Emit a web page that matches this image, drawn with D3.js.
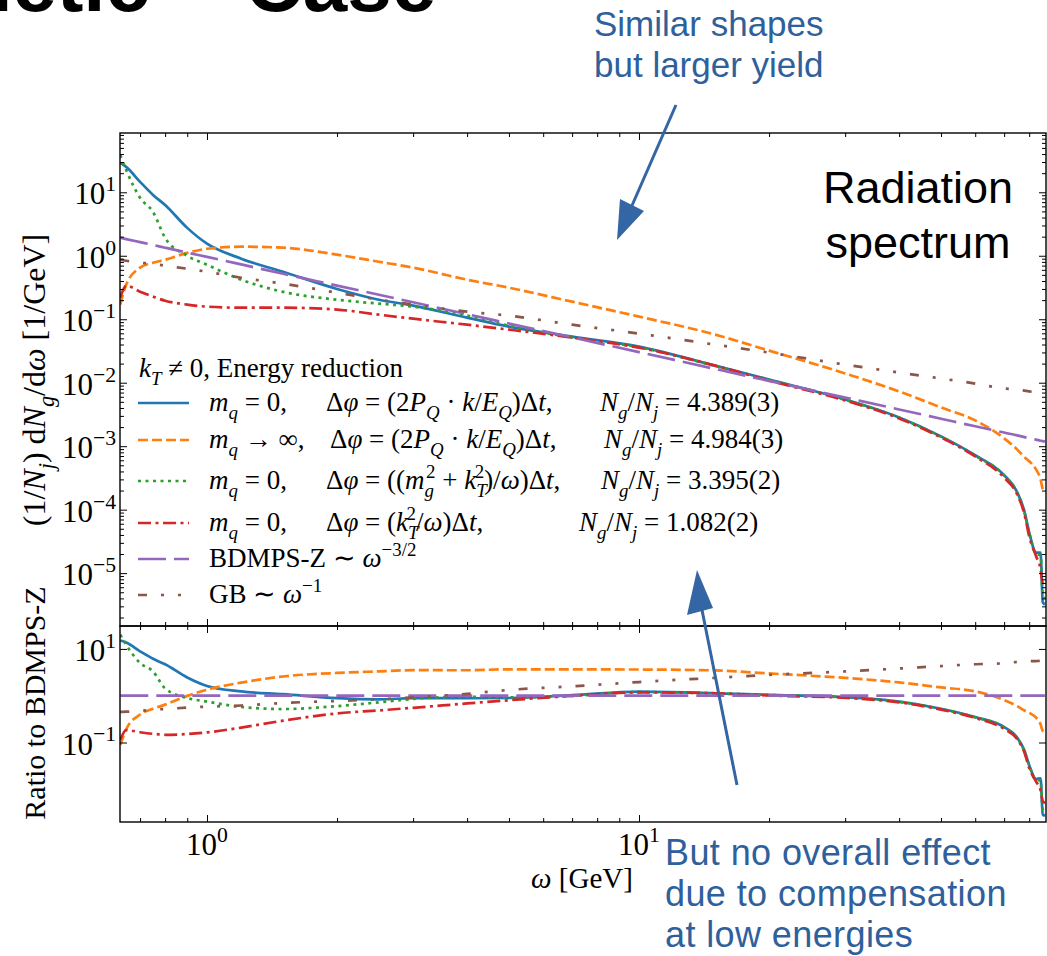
<!DOCTYPE html>
<html>
<head>
<meta charset="utf-8">
<script src="https://cdn.jsdelivr.net/npm/d3@7"></script>
<style>
  body { margin: 0; background: #fff; }
  svg { display: block; }
  text { font-family: "Liberation Serif", serif; white-space: pre; }
  .sans { font-family: "Liberation Sans", Arial, sans-serif; }
</style>
</head>
<body>
<svg id="chart" width="1047" height="956"></svg>
<script>
  // gluon energy omega [GeV] where the curves were read
  var omega = [0.63, 0.65, 0.7, 0.75, 0.8, 0.9, 1, 1.2, 1.5, 2, 2.5, 3, 4, 5, 7, 10, 15, 20, 30, 40, 50, 60, 70, 75, 78, 80, 83, 85, 86, 87];

  // (1/Nj) dNg/domega [1/GeV]
  var masslessPk = [29.0, 25.1, 14.6, 9.1, 6.3, 2.75, 1.55, 0.90, 0.56, 0.30, 0.203, 0.164, 0.106, 0.0765, 0.0532, 0.0371, 0.0186, 0.0112, 0.00544, 0.00284, 0.00143, 7.2e-4, 3.5e-4, 1.9e-4, 9.4e-5, 4.4e-5, 2.1e-5, 2.1e-5, 3.5e-6, 3.2e-6];
  var heavyPk = [0.170, 0.35, 0.65, 0.776, 0.865, 1.11, 1.29, 1.39, 1.34, 1.04, 0.805, 0.65, 0.42, 0.314, 0.189, 0.11, 0.0573, 0.032, 0.014, 0.00728, 0.00408, 0.00255, 0.00133, 8.9e-4, 6.7e-4, 5.8e-4, 4.3e-4, 3.0e-4, 2.1e-4, 1.9e-4];
  var masslessMg = [38.7, 22.5, 8.2, 4.9, 1.92, 1.0, 0.72, 0.42, 0.27, 0.203, 0.176, 0.158, 0.114, 0.079, 0.0514, 0.0362, 0.0184, 0.0111, 0.00538, 0.00281, 0.00141, 7.1e-4, 3.45e-4, 1.85e-4, 9.0e-5, 4.3e-5, 2.0e-5, 1.9e-5, 4.5e-6, 4.0e-6];
  var masslessKt = [0.219, 0.337, 0.272, 0.227, 0.196, 0.170, 0.158, 0.152, 0.152, 0.142, 0.118, 0.102, 0.082, 0.0686, 0.0514, 0.0357, 0.0186, 0.0108, 0.00525, 0.00274, 0.00137, 6.9e-4, 3.2e-4, 1.75e-4, 8.5e-5, 3.8e-5, 1.85e-5, 1.16e-5, 6.7e-6, 6.0e-6];
  var bdmpsz = [1.92, 1.83, 1.64, 1.48, 1.34, 1.12, 0.96, 0.73, 0.52, 0.339, 0.243, 0.185, 0.120, 0.0857, 0.0518, 0.0303, 0.0165, 0.0107, 0.00583, 0.00379, 0.00271, 0.00206, 0.00164, 0.00148, 0.00139, 0.00134, 0.00127, 0.00122, 0.00120, 0.00118];
  var gb = [0.865, 0.834, 0.776, 0.748, 0.696, 0.625, 0.56, 0.451, 0.363, 0.262, 0.203, 0.170, 0.1316, 0.114, 0.082, 0.0594, 0.0398, 0.0298, 0.0193, 0.01446, 0.01164, 0.0097, 0.0081, 0.0078, 0.0075, 0.0073, 0.0070, 0.0068, 0.0068, 0.0065];

  var xMajor = [1, 10];
  var yTopMajor = [1e1, 1e0, 1e-1, 1e-2, 1e-3, 1e-4, 1e-5];
  var yRatioMajor = [1e1, 1e-1];
  var multiplicities = ['4.389(3)', '4.984(3)', '3.395(2)', '1.082(2)'];

  var svg = d3.select('#chart');
  var plotLeft = 120, plotRight = 1046, plotTop = 133, plotMid = 626, plotBottom = 822;

  var x = d3.scaleLog().domain([0.629, 87.5]).range([plotLeft, plotRight]);
  var yTop = d3.scaleLog().domain([1.47e-6, 85.9]).range([plotMid, plotTop]);
  var yRatio = d3.scaleLog().domain([0.002, 30.9]).range([plotBottom, plotMid]);

  var series = [
    { values: masslessPk, color: '#1f77b4', dash: null },
    { values: heavyPk, color: '#ff7f0e', dash: '10,4' },
    { values: masslessMg, color: '#2ca02c', dash: '3,4.5' },
    { values: masslessKt, color: '#d62728', dash: '13,4.5,3,4.5' },
    { values: bdmpsz, color: '#9467bd', dash: '28,8' },
    { values: gb, color: '#8c564b', dash: '9,14,3,14,3,14' }
  ];

  // small helper for math-ish labels: [text, flags, dx]; flags: i italic, _ sub, ^ sup
  function rich(sel, parts, size) {
    var cur = 0;
    parts.forEach(function(p) {
      var f = p[1] || '';
      var off = f.indexOf('_') >= 0 ? size * 0.28 : f.indexOf('^') >= 0 ? -size * 0.42 : 0;
      var ts = sel.append('tspan').text(p[0]).attr('dy', off - cur);
      if (f.indexOf('i') >= 0) ts.style('font-style', 'italic');
      if (off !== 0) ts.style('font-size', (size * 0.7) + 'px');
      if (p[2]) ts.attr('dx', p[2]);
      cur = off;
    });
    return sel;
  }

  function minorsFor(domain) {
    var out = [];
    for (var e = -7; e <= 2; e++) {
      for (var m = 2; m <= 9; m++) {
        var v = m * Math.pow(10, e);
        if (v > domain[0] && v < domain[1]) out.push(v);
      }
    }
    return out;
  }

  function expText(v) {
    var e = Math.round(Math.log10(v));
    return e < 0 ? '\u2212' + (-e) : '' + e;
  }

  function ticks(g, axisFn, scale, values, size, transform) {
    g.append('g')
      .attr('transform', transform)
      .call(axisFn(scale).tickValues(values).tickSize(-size).tickFormat(''))
      .call(function(s) { s.select('.domain').remove(); })
      .selectAll('line').attr('stroke-width', 1);
  }

  function panel(yScale, yMajors, yMinors, y0, y1, ratio, id) {
    var g = svg.append('g');

    svg.append('clipPath').attr('id', id)
      .append('rect').attr('x', plotLeft).attr('y', y0).attr('width', plotRight - plotLeft).attr('height', y1 - y0);

    var line = d3.line()
      .x(function(d) { return x(d[0]); })
      .y(function(d) { return yScale(d[1]); })
      .curve(d3.curveMonotoneX);

    var lines = g.append('g').attr('clip-path', 'url(#' + id + ')');
    series.forEach(function(s) {
      var pts = omega.map(function(w, i) {
        return [w, ratio ? s.values[i] / bdmpsz[i] : s.values[i]];
      });
      lines.append('path')
        .attr('d', line(pts))
        .attr('fill', 'none')
        .attr('stroke', s.color)
        .attr('stroke-width', 2.7)
        .attr('stroke-dasharray', s.dash);
    });

    var xMinors = minorsFor(x.domain());
    ticks(g, d3.axisBottom, x, xMajor, 7, 'translate(0,' + y1 + ')');
    ticks(g, d3.axisBottom, x, xMinors, 4, 'translate(0,' + y1 + ')');
    ticks(g, d3.axisTop, x, xMajor, 7, 'translate(0,' + y0 + ')');
    ticks(g, d3.axisTop, x, xMinors, 4, 'translate(0,' + y0 + ')');
    ticks(g, d3.axisLeft, yScale, yMajors, 7, 'translate(' + plotLeft + ',0)');
    ticks(g, d3.axisRight, yScale, yMajors, 7, 'translate(' + plotRight + ',0)');
    if (yMinors.length) {
      ticks(g, d3.axisLeft, yScale, yMinors, 4, 'translate(' + plotLeft + ',0)');
      ticks(g, d3.axisRight, yScale, yMinors, 4, 'translate(' + plotRight + ',0)');
    }

    g.append('rect')
      .attr('x', plotLeft).attr('y', y0).attr('width', plotRight - plotLeft).attr('height', y1 - y0)
      .attr('fill', 'none').attr('stroke', '#000').attr('stroke-width', 1.4);

    yMajors.forEach(function(v) {
      var t = g.append('text')
        .attr('x', plotLeft - 4).attr('y', yScale(v) + 12)
        .attr('text-anchor', 'end')
        .style('font-size', '31px');
      rich(t, [['10'], [expText(v), '^']], 31);
    });
    return g;
  }

  panel(yTop, yTopMajor, minorsFor(yTop.domain()), plotTop, plotMid, false, 'clipTop');
  panel(yRatio, yRatioMajor, [], plotMid, plotBottom, true, 'clipRatio');

  // x tick labels under the ratio panel
  xMajor.forEach(function(v) {
    var t = svg.append('text')
      .attr('x', x(v)).attr('y', 855)
      .attr('text-anchor', 'middle')
      .style('font-size', '31px');
    rich(t, [['10'], [expText(v), '^']], 31);
  });

  rich(svg.append('text').attr('x', 582).attr('y', 888).attr('text-anchor', 'middle').style('font-size', '29px'),
    [['\u03c9', 'i'], [' [GeV]']], 29);

  rich(svg.append('text').attr('transform', 'translate(45,380) rotate(-90)').attr('text-anchor', 'middle').style('font-size', '32px'),
    [['(1/'], ['N', 'i'], ['j', 'i_'], [') d'], ['N', 'i'], ['g', 'i_'], ['/d'], ['\u03c9', 'i'], [' [1/GeV]']], 32);

  svg.append('text').attr('transform', 'translate(45,703) rotate(-90)').attr('text-anchor', 'middle')
    .style('font-size', '30px').text('Ratio to BDMPS-Z');

  // legend
  var fs = 27;
  var legend = svg.append('g').style('font-size', fs + 'px');
  rich(legend.append('text').attr('x', 139).attr('y', 377),
    [['k', 'i'], ['T', 'i_'], [' \u2260 0, Energy reduction']], fs);

  var rowY = [403, 440, 481, 523, 559, 595];
  var col1 = [
    [['m', 'i'], ['q', 'i_'], [' = 0,']],
    [['m', 'i'], ['q', 'i_'], [' \u2192 \u221e,']],
    [['m', 'i'], ['q', 'i_'], [' = 0,']],
    [['m', 'i'], ['q', 'i_'], [' = 0,']],
    [['BDMPS-Z \u223c '], ['\u03c9', 'i'], ['\u22123/2', '^']],
    [['GB \u223c '], ['\u03c9', 'i'], ['\u22121', '^']]
  ];
  var col2 = [
    [['\u0394'], ['\u03c6', 'i'], [' = (2'], ['P', 'i'], ['Q', 'i_'], [' \u00b7 '], ['k', 'i'], ['/'], ['E', 'i'], ['Q', 'i_'], [')\u0394'], ['t', 'i'], [',']],
    [['\u0394'], ['\u03c6', 'i'], [' = (2'], ['P', 'i'], ['Q', 'i_'], [' \u00b7 '], ['k', 'i'], ['/'], ['E', 'i'], ['Q', 'i_'], [')\u0394'], ['t', 'i'], [',']],
    [['\u0394'], ['\u03c6', 'i'], [' = (('], ['m', 'i'], ['g', 'i_'], ['2', '^', -8], [' + '], ['k', 'i'], ['T', 'i_'], ['2', '^', -12], [')/'], ['\u03c9', 'i'], [')\u0394'], ['t', 'i'], [',']],
    [['\u0394'], ['\u03c6', 'i'], [' = ('], ['k', 'i'], ['T', 'i_'], ['2', '^', -12], ['/'], ['\u03c9', 'i'], [')\u0394'], ['t', 'i'], [',']]
  ];
  var col2X = [326, 330, 326, 326];
  var col3X = [600, 604, 601, 579];

  series.forEach(function(s, i) {
    legend.append('line')
      .attr('x1', 138).attr('x2', 189).attr('y1', rowY[i]).attr('y2', rowY[i])
      .attr('stroke', s.color).attr('stroke-width', 2.7)
      .attr('stroke-dasharray', s.dash);
    rich(legend.append('text').attr('x', 209).attr('y', rowY[i] + 8), col1[i], fs);
    if (i < 4) {
      rich(legend.append('text').attr('x', col2X[i]).attr('y', rowY[i] + 8), col2[i], fs);
      rich(legend.append('text').attr('x', col3X[i]).attr('y', rowY[i] + 8),
        [['N', 'i'], ['g', 'i_'], ['/'], ['N', 'i'], ['j', 'i_'], [' = ' + multiplicities[i]]], fs);
    }
  });

  // slide annotations
  var noteBlue = '#2e609c', arrowBlue = '#3465a4';
  svg.append('text').attr('class', 'sans').attr('x', 150).attr('y', 11).attr('text-anchor', 'end')
    .style('font-size', '80px').style('font-weight', 'bold').text('Kinetic');
  svg.append('text').attr('class', 'sans').attr('x', 245).attr('y', 11)
    .style('font-size', '80px').style('font-weight', 'bold').text('Case');

  var corner = svg.append('text').attr('class', 'sans').attr('text-anchor', 'middle').style('font-size', '45px');
  corner.append('tspan').attr('x', 918).attr('y', 203).text('Radiation');
  corner.append('tspan').attr('x', 918).attr('y', 258).text('spectrum');

  var noteTop = svg.append('text').attr('class', 'sans').attr('fill', noteBlue).style('font-size', '35px');
  noteTop.append('tspan').attr('x', 594).attr('y', 36).text('Similar shapes');
  noteTop.append('tspan').attr('x', 594).attr('y', 77).text('but larger yield');

  var noteBottom = svg.append('text').attr('class', 'sans').attr('fill', noteBlue)
    .style('font-size', '36px').style('letter-spacing', '0.4px');
  noteBottom.append('tspan').attr('x', 665).attr('y', 865).text('But no overall effect');
  noteBottom.append('tspan').attr('x', 665).attr('y', 906).text('due to compensation');
  noteBottom.append('tspan').attr('x', 665).attr('y', 947).text('at low energies');

  svg.append('line').attr('x1', 676).attr('y1', 105).attr('x2', 630).attr('y2', 210)
    .attr('stroke', arrowBlue).attr('stroke-width', 3);
  svg.append('polygon').attr('points', '617,240 620,199 644,211').attr('fill', arrowBlue);

  svg.append('line').attr('x1', 737).attr('y1', 785).attr('x2', 701).attr('y2', 605)
    .attr('stroke', arrowBlue).attr('stroke-width', 3);
  svg.append('polygon').attr('points', '697,570 687,615 713,608').attr('fill', arrowBlue);
</script>
</body>
</html>
